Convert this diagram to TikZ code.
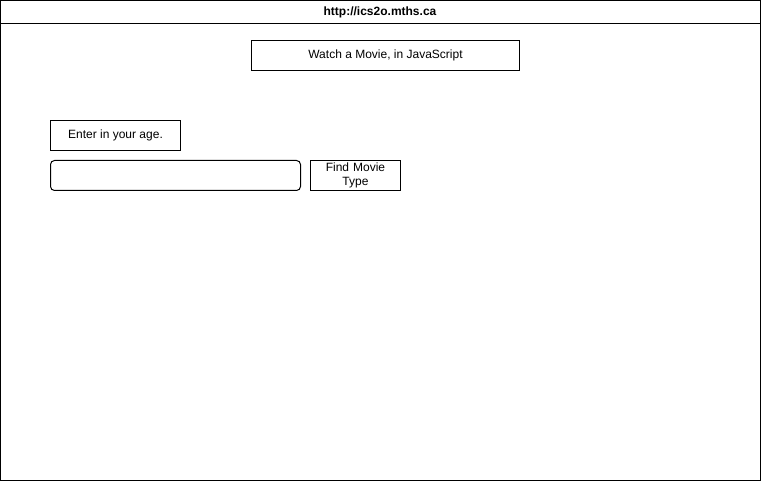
\documentclass[tikz,border=0pt]{standalone}
\usepackage{fontspec}
\setmainfont{Liberation Sans}
\usetikzlibrary{positioning}
\tikzstyle{frame} = [draw, line width=1pt]
\tikzstyle{block} = [draw, line width=1pt, rectangle, text centered, inner sep=0pt, outer sep=0pt, minimum height=30pt, font=\fontsize{12}{14}\selectfont]
\tikzstyle{field} = [block, rounded corners=4pt, minimum width=250pt]
\tikzstyle{button} = [block, text width=80pt, minimum width=90pt, align=center]

\begin{document}
\begin{tikzpicture}[x=1pt, y=-1pt, node distance=10pt]
        \useasboundingbox (0,0) rectangle (761,481);
        \draw[frame] (0.5,0.5) rectangle (760.5,480.5);
        \coordinate (barl) at (0.5,23.5);
        \coordinate (barr) at (760.5,23.5);
        \draw[frame] (barl) -- (barr);
        \node[font=\fontsize{12}{14}\selectfont\bfseries] (url) at (380,12.5) {http://ics2o.mths.ca};
        \node[block, minimum width=268pt, anchor=north west] (title) at (251.5,40.5) {Watch a Movie, in JavaScript};
        \node[block, minimum width=130pt, anchor=north west] (prompt) at (50.5,120.5) {Enter in your age.};
        \node[field, below=10pt of prompt.south west, anchor=north west] (agebox) {};
        \node[button, right=of agebox] (find) {Find Movie Type};
    \end{tikzpicture}
\end{document}
